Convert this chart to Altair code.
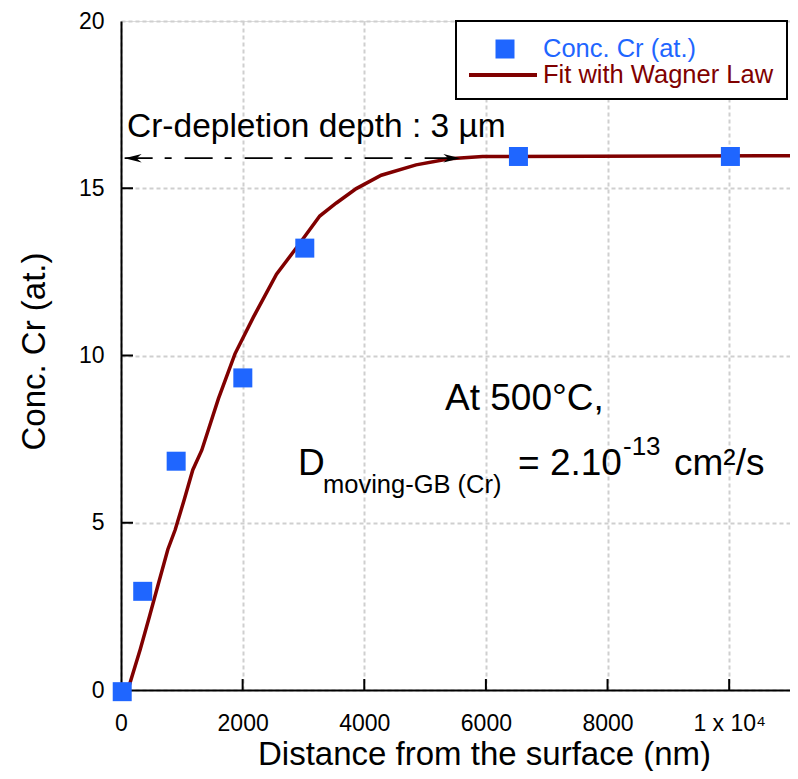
import altair as alt
import pandas as pd

# ---------------- data ----------------
X_MEAS = [20, 357, 907, 2003, 3022, 6535, 10020]
Y_MEAS = [-0.05, 2.95, 6.84, 9.33, 13.21, 15.95, 15.95]

FIT_X = [110, 143, 317, 470, 618, 770, 891, 1038, 1180, 1328, 1602, 1874, 2175,
         2557, 2885, 3268, 3541, 3869, 4279, 4852, 5399, 5945, 11000]
FIT_Y = [0.0, 0.18, 1.22, 2.21, 3.20, 4.20, 4.79, 5.68, 6.58, 7.17, 8.71, 10.05, 11.14,
         12.43, 13.22, 14.17, 14.56, 14.99, 15.39, 15.70, 15.88, 15.95, 15.97]

X_TICKS = [0, 2000, 4000, 6000, 8000, 10000]
Y_TICKS = [0, 5, 10, 15, 20]
X_INNER_TICKS = [2000, 4000, 6000, 8000, 10000]
Y_INNER_TICKS = [5, 10, 15]

ARROW_X = [60, 5580]
ARROW_Y = [15.9, 15.9]

LEGEND_LABELS = ["Conc. Cr (at.)", "Fit with Wagner Law"]

BLUE = "#1f66ff"
RED = "#800000"
FONT = "Liberation Sans"
W, H = 669, 669

meas = pd.DataFrame({"x": X_MEAS, "y": Y_MEAS})
fit = pd.DataFrame({"x": FIT_X, "y": FIT_Y})
arrow = pd.DataFrame({"x": ARROW_X, "y": ARROW_Y})
one = pd.DataFrame({"a": [0]})

xs = alt.Scale(domain=[0, 11000], nice=False, zero=False)
ys = alt.Scale(domain=[0, 20], nice=False, zero=False)

common_axis = dict(
    grid=True, gridColor="#cfcfcf", gridDash=[4, 3], gridWidth=2,
    ticks=False, tickSize=0, domain=True, domainColor="black", domainWidth=2,
    labelFont=FONT, labelFontSize=23, labelColor="black", labelFlush=False,
    labelOverlap=False, titleFont=FONT, titleFontSize=33, titleFontWeight="normal",
    titleColor="black", titleAlign="center", titleBaseline="alphabetic",
)
x_axis = alt.Axis(values=X_TICKS, format="d",
                  labelExpr="datum.value == 10000 ? '1 x 10\u2074' : datum.label",
                  title="Distance from the surface (nm)", labelPadding=22,
                  titleX=363, titleY=74, **common_axis)
y_axis = alt.Axis(values=Y_TICKS, format="d", title="Conc. Cr (at.)",
                  labelPadding=17, titleAngle=270, titleX=-77, titleY=330,
                  **common_axis)


def X(field="x"):
    return alt.X(f"{field}:Q", scale=xs, axis=x_axis)


def Y(field="y"):
    return alt.Y(f"{field}:Q", scale=ys, axis=y_axis)


fit_line = alt.Chart(fit).mark_line(color=RED, strokeWidth=3.5).encode(x=X(), y=Y())

points = alt.Chart(meas).mark_point(shape="square", filled=True, size=361,
                                    color=BLUE, opacity=1).encode(x=X(), y=Y())

# inward ticks
xt = alt.Chart(pd.DataFrame({"x": X_INNER_TICKS})).mark_rule(
    color="black", strokeWidth=2).encode(x=X(), y=alt.value(H), y2=alt.value(H - 11))
yt = alt.Chart(pd.DataFrame({"y": Y_INNER_TICKS})).mark_rule(
    color="black", strokeWidth=2).encode(y=Y(), x=alt.value(0), x2=alt.value(12))

# dashed double arrow
arrow_line = alt.Chart(arrow).mark_line(
    color="black", strokeWidth=1.6, strokeDash=[28, 12, 7, 13]).encode(x=X(), y=Y())
LEFT_HEAD = "M0,0 L2,-0.5 L1.4,0 L2,0.5 Z"
RIGHT_HEAD = "M0,0 L-2,-0.5 L-1.4,0 L-2,0.5 Z"
head_l = alt.Chart(arrow.iloc[[0]]).mark_point(
    shape=LEFT_HEAD, filled=True, size=289, color="black", opacity=1).encode(x=X(), y=Y())
head_r = alt.Chart(arrow.iloc[[1]]).mark_point(
    shape=RIGHT_HEAD, filled=True, size=289, color="black", opacity=1).encode(x=X(), y=Y())


def txt(t, x, y, size, color="black"):
    return alt.Chart(one).mark_text(
        text=t, font=FONT, fontSize=size, color=color, align="left",
        baseline="alphabetic").encode(x=alt.value(x), y=alt.value(y))


texts = [
    txt("Cr-depletion depth : 3 \u00b5m", 6, 116, 33.5),
    txt("At 500\u00b0C,", 324, 389, 37),
    txt("D", 177, 454, 37),
    txt("moving-GB (Cr)", 202, 472, 25.5),
    txt("= 2.10", 397, 454, 37),
    txt("-13", 502, 434, 26),
    txt("cm\u00b2/s", 553, 454, 37),
]

# legend (drawn manually)
leg_box = alt.Chart(one).mark_rect(fill="white", stroke="black", strokeWidth=2).encode(
    x=alt.value(335), x2=alt.value(666), y=alt.value(0), y2=alt.value(78))
leg_sq = alt.Chart(one).mark_point(shape="square", filled=True, size=361, color=BLUE,
                                   opacity=1).encode(x=alt.value(384), y=alt.value(28))
leg_ln = alt.Chart(one).mark_rule(color=RED, strokeWidth=4).encode(
    x=alt.value(348), x2=alt.value(416), y=alt.value(54))
leg_t1 = txt(LEGEND_LABELS[0], 422, 36, 25.5, BLUE)
leg_t2 = txt(LEGEND_LABELS[1], 422, 62, 25.5, RED)

chart = alt.layer(
    fit_line, xt, yt, arrow_line, head_l, head_r, points, *texts,
    leg_box, leg_sq, leg_ln, leg_t1, leg_t2,
).properties(
    width=W, height=H,
    autosize=alt.AutoSizeParams(type="none"),
    padding={"left": 113, "top": 13, "right": 0, "bottom": 81},
).configure_view(
    stroke="black", strokeWidth=2
).configure(background="white")

chart.save("out.html", embed_options={"renderer": "svg", "actions": False})
